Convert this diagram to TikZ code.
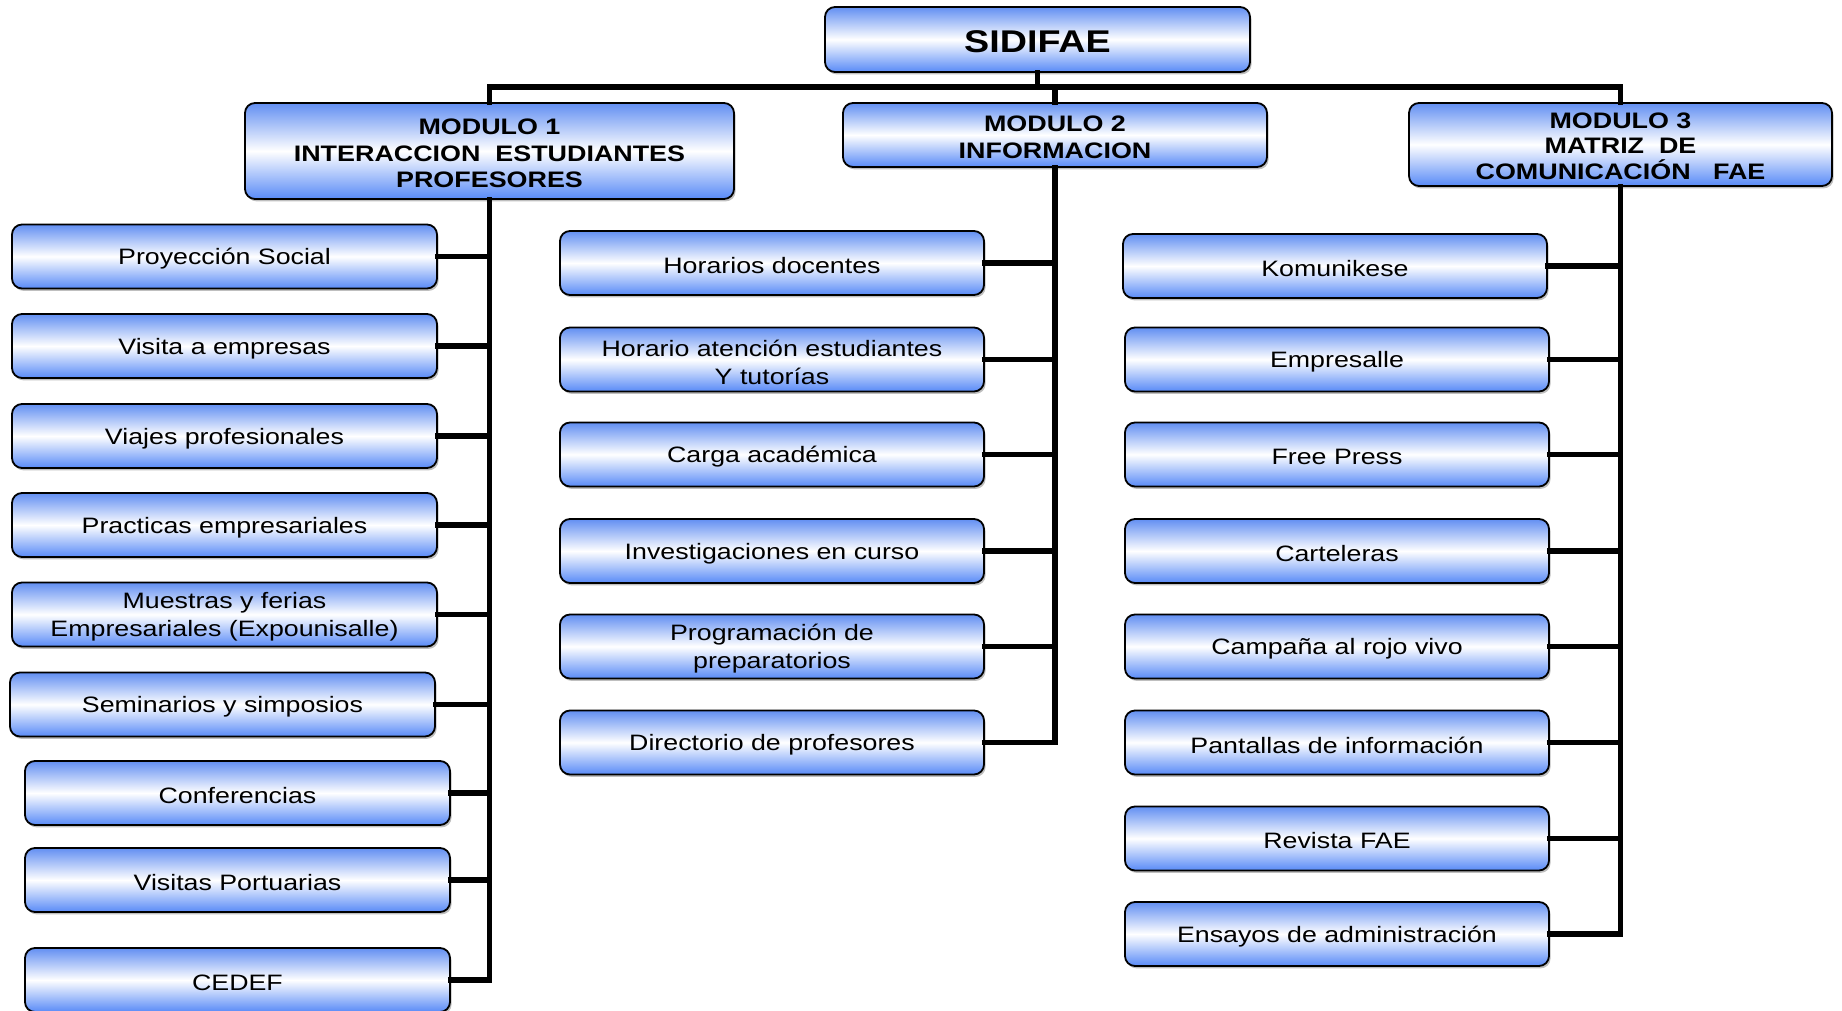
\documentclass[tikz,border=0pt]{standalone}
\usepackage{fontspec}
\setmainfont{Liberation Sans}[FakeStretch=1.2]
\usetikzlibrary{shadows}
\definecolor{boxtop}{RGB}{98,143,242}
\definecolor{boxbot}{RGB}{88,138,247}
\tikzset{
  box/.style={draw=black, line width=0.9pt, rounded corners=5pt,
    top color=boxtop, bottom color=boxbot, middle color=white,
    minimum width=212.5pt, minimum height=32pt, inner sep=0pt,
    drop shadow={shadow xshift=0.8pt, shadow yshift=-1.2pt, opacity=0.25, fill=black}},
  txt/.style={align=center, inner sep=0pt, yshift=-1.2pt, text=black,
    font=\fontsize{11.15}{14}\selectfont},
  modtxt/.style={txt, font=\fontsize{11.2}{13.2}\selectfont\bfseries},
  conn/.style={draw=black, line width=2.8pt, line cap=rect, line join=miter},
}
\begin{document}
\begin{tikzpicture}[x=0.5pt, y=-0.5pt]
\useasboundingbox (0,0) rectangle (1842,1011);
% top
\node[box, minimum height=32.5pt, label={[modtxt, font=\fontsize{15.7}{18}\selectfont\bfseries]center:{SIDIFAE}}] (sid) at (1037.5,39.5) {};
\node[box, minimum width=244.5pt, minimum height=48pt, label={[modtxt]center:{MODULO 1\\INTERACCION~~ESTUDIANTES\\PROFESORES}}] (m1) at (489.5,151) {};
\node[box, minimum width=212pt, label={[modtxt]center:{MODULO 2\\INFORMACION}}] (m2) at (1055,135) {};
\node[box, minimum width=211.5pt, minimum height=41.5pt, label={[modtxt, yshift=0.4pt, font=\fontsize{11.2}{12.6}\selectfont\bfseries]center:{MODULO 3\\MATRIZ~~DE\\COMUNICACIÓN~~~FAE}}] (m3) at (1620.5,144.5) {};
% column 1
\node[box, label={[txt]center:{Proyección Social}}] (a1) at (224.5,256.5) {};
\node[box, label={[txt]center:{Visita a empresas}}] (a2) at (224.5,346) {};
\node[box, label={[txt]center:{Viajes profesionales}}] (a3) at (224.5,436) {};
\node[box, label={[txt]center:{Practicas empresariales}}] (a4) at (224.5,525) {};
\node[box, label={[txt]center:{Muestras y ferias\\Empresariales (Expounisalle)}}] (a5) at (224.5,614.5) {};
\node[box, label={[txt]center:{Seminarios y simposios}}] (a6) at (222.5,704.5) {};
\node[box, label={[txt]center:{Conferencias}}] (a7) at (237.5,793) {};
\node[box, label={[txt]center:{Visitas Portuarias}}] (a8) at (237.5,880) {};
\node[box, label={[txt]center:{CEDEF}}] (a9) at (237.5,980) {};
% column 2
\node[box, minimum width=212pt, label={[txt]center:{Horarios docentes}}] (b1) at (772,263) {};
\node[box, minimum width=212pt, label={[txt]center:{Horario atención estudiantes\\Y tutorías}}] (b2) at (772,359.5) {};
\node[box, minimum width=212pt, label={[txt]center:{Carga académica}}] (b3) at (772,454.5) {};
\node[box, minimum width=212pt, label={[txt]center:{Investigaciones en curso}}] (b4) at (772,551) {};
\node[box, minimum width=212pt, label={[txt]center:{Programación de\\preparatorios}}] (b5) at (772,646.5) {};
\node[box, minimum width=212pt, label={[txt]center:{Directorio de profesores}}] (b6) at (772,742.5) {};
% column 3
\node[box, minimum width=212pt, label={[txt]center:{Komunikese}}] (c1) at (1335,266) {};
\node[box, minimum width=212pt, label={[txt]center:{Empresalle}}] (c2) at (1337,359.5) {};
\node[box, minimum width=212pt, label={[txt]center:{Free Press}}] (c3) at (1337,454.5) {};
\node[box, minimum width=212pt, label={[txt]center:{Carteleras}}] (c4) at (1337,551) {};
\node[box, minimum width=212pt, label={[txt]center:{Campaña al rojo vivo}}] (c5) at (1337,646.5) {};
\node[box, minimum width=212pt, label={[txt]center:{Pantallas de información}}] (c6) at (1337,742.5) {};
\node[box, minimum width=212pt, label={[txt]center:{Revista FAE}}] (c7) at (1337,838.5) {};
\node[box, minimum width=212pt, label={[txt]center:{Ensayos de administración}}] (c8) at (1337,934) {};
% bus
\coordinate (busy) at (0,87);
\draw[conn] (m1.north) -- (m1.north |- busy) -| (m3.north);
\draw[conn] (sid.south) -- (sid.south |- busy);
\draw[conn] (m2.north) -- (m2.north |- busy);
% spines
\draw[conn] (m1.south) -- (m1.south |- a9.east) -- (a9.east);
\foreach \n in {a1,a2,a3,a4,a5,a6,a7,a8} \draw[conn] (\n.east) -- (\n.east -| m1.south);
\draw[conn] (m2.south) -- (m2.south |- b6.east) -- (b6.east);
\foreach \n in {b1,b2,b3,b4,b5} \draw[conn] (\n.east) -- (\n.east -| m2.south);
\draw[conn] (m3.south) -- (m3.south |- c8.east) -- (c8.east);
\foreach \n in {c1,c2,c3,c4,c5,c6,c7} \draw[conn] (\n.east) -- (\n.east -| m3.south);
\end{tikzpicture}
\end{document}
